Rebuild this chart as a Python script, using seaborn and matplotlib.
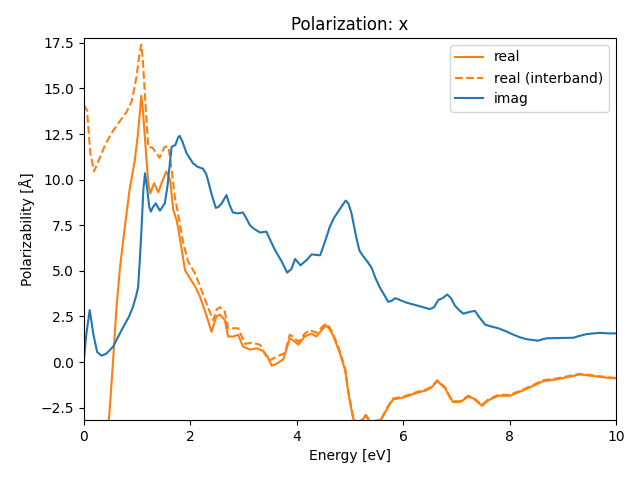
import matplotlib
matplotlib.use("Agg")
import matplotlib.pyplot as plt
import seaborn as sns
import pandas as pd

imag_x = [0.00, 0.05, 0.11, 0.18, 0.25, 0.33, 0.42, 0.55, 0.70, 0.85, 0.92, 0.98, 1.02, 1.05, 1.08, 1.12, 1.15, 1.19, 1.23, 1.26,
          1.30, 1.35, 1.43, 1.52, 1.57, 1.62, 1.65, 1.72, 1.77, 1.80, 1.85, 1.93, 2.05, 2.14, 2.24, 2.30, 2.33, 2.40, 2.48, 2.53,
          2.59, 2.68, 2.74, 2.80, 2.89, 2.99, 3.05, 3.12, 3.20, 3.31, 3.43, 3.50, 3.59, 3.72, 3.82, 3.90, 3.97, 4.07, 4.19, 4.28,
          4.44, 4.52, 4.62, 4.70, 4.78, 4.86, 4.92, 4.97, 5.03, 5.08, 5.13, 5.18, 5.25, 5.33, 5.41, 5.48, 5.56, 5.64, 5.72, 5.78,
          5.85, 6.07, 6.32, 6.50, 6.58, 6.66, 6.74, 6.83, 6.90, 6.97, 7.05, 7.13, 7.25, 7.35, 7.42, 7.54, 7.65, 7.79, 7.92, 8.07,
          8.20, 8.32, 8.45, 8.54, 8.62, 8.70, 9.00, 9.20, 9.30, 9.45, 9.70, 9.85, 10.0]
imag_y = [0.10, 1.6, 2.85, 1.5, 0.55, 0.35, 0.45, 0.84, 1.7, 2.5, 3.0, 3.6, 4.1, 5.5, 7.1, 9.5, 10.35, 9.5, 8.5, 8.25,
          8.5, 8.7, 8.3, 8.7, 9.6, 11.0, 11.8, 11.9, 12.3, 12.4, 12.1, 11.45, 10.9, 10.7, 10.6, 10.3, 10.0, 9.2, 8.45, 8.5,
          8.7, 9.15, 8.6, 8.2, 8.15, 8.2, 7.9, 7.5, 7.3, 7.1, 7.15, 6.7, 6.15, 5.5, 4.9, 5.1, 5.65, 5.3, 5.6, 5.9,
          5.85, 6.5, 7.4, 7.9, 8.25, 8.6, 8.85, 8.7, 8.15, 7.4, 6.7, 6.1, 5.8, 5.5, 5.15, 4.6, 4.1, 3.7, 3.3, 3.35,
          3.5, 3.25, 3.05, 2.9, 3.0, 3.4, 3.5, 3.7, 3.5, 3.1, 2.85, 2.65, 2.75, 2.8, 2.5, 2.05, 1.95, 1.85, 1.7, 1.5,
          1.35, 1.25, 1.2, 1.17, 1.25, 1.3, 1.32, 1.33, 1.42, 1.53, 1.6, 1.57, 1.57]

real_x = [0.40, 0.44, 0.49, 0.55, 0.61, 0.68, 0.77, 0.86, 0.96, 1.02, 1.08, 1.11, 1.15, 1.21, 1.25, 1.32, 1.40, 1.46, 1.55, 1.62,
          1.68, 1.74, 1.77, 1.84, 1.90, 1.99, 2.09, 2.18, 2.31, 2.40, 2.49, 2.56, 2.65, 2.71, 2.81, 2.90, 2.99, 3.12, 3.25, 3.37,
          3.45, 3.53, 3.62, 3.75, 3.87, 3.93, 4.03, 4.15, 4.28, 4.37, 4.47, 4.55, 4.62, 4.69, 4.81, 4.91, 4.97, 5.06, 5.12, 5.19,
          5.30, 5.37, 5.44, 5.52, 5.60, 5.72, 5.81, 6.00, 6.25, 6.44, 6.53, 6.64, 6.70, 6.79, 6.88, 6.94, 7.07, 7.22, 7.32, 7.42,
          7.48, 7.60, 7.79, 8.01, 8.26, 8.45, 8.63, 8.89, 9.14, 9.32, 9.57, 9.82, 10.0]
real_y = [-6.0, -4.2, -2.45, 0.1, 2.85, 5.2, 7.4, 9.45, 11.1, 12.6, 14.6, 13.8, 12.2, 9.8, 9.25, 9.8, 9.3, 9.8, 10.45, 10.0,
          8.35, 7.8, 7.4, 6.15, 5.05, 4.6, 4.15, 3.6, 2.5, 1.65, 2.5, 2.6, 2.3, 1.4, 1.4, 1.5, 0.85, 0.68, 0.75, 0.6,
          0.3, -0.2, -0.1, 0.15, 1.3, 1.2, 0.95, 1.4, 1.55, 1.4, 1.75, 2.0, 1.8, 1.4, 0.5, -0.45, -1.7, -3.1, -3.3, -3.3,
          -2.95, -3.25, -3.3, -3.25, -3.1, -2.45, -2.05, -1.95, -1.7, -1.55, -1.4, -1.05, -1.2, -1.45, -1.95, -2.2, -2.2, -1.9, -2.0, -2.25,
          -2.4, -2.1, -1.85, -1.85, -1.55, -1.3, -1.05, -0.95, -0.8, -0.68, -0.77, -0.86, -0.9]

inter_x = [0.00, 0.06, 0.12, 0.19, 0.30, 0.40, 0.52, 0.65, 0.80, 0.90, 0.99, 1.05, 1.08, 1.11, 1.15, 1.21, 1.29, 1.42, 1.52, 1.59,
           1.65, 1.71, 1.77, 1.87, 1.96, 2.09, 2.21, 2.34, 2.43, 2.50, 2.56, 2.65, 2.71, 2.80, 2.90, 3.03, 3.15, 3.31, 3.43, 3.50,
           3.65, 3.78, 3.87, 3.93, 4.03, 4.15, 4.25, 4.37, 4.47, 4.55, 4.62, 4.69, 4.81, 4.91, 4.97, 5.06, 5.12, 5.19, 5.30, 5.37,
           5.44, 5.52, 5.60, 5.72, 5.81, 6.00, 6.25, 6.44, 6.53, 6.64, 6.70, 6.79, 6.88, 6.94, 7.07, 7.22, 7.32, 7.42, 7.48, 7.60,
           7.79, 8.01, 8.26, 8.45, 8.63, 8.89, 9.14, 9.32, 9.57, 9.82, 10.0]
inter_y = [14.1, 13.8, 11.5, 10.45, 11.2, 11.9, 12.55, 13.1, 13.7, 14.3, 15.65, 17.0, 17.4, 16.5, 14.55, 11.8, 11.75, 11.2, 11.8, 11.8,
           10.55, 9.05, 8.15, 6.5, 5.5, 4.85, 3.95, 2.95, 2.3, 2.9, 3.0, 2.75, 1.85, 1.85, 1.85, 1.0, 1.05, 0.95, 0.3, 0.1,
           0.33, 0.5, 1.5, 1.4, 1.1, 1.55, 1.75, 1.6, 1.9, 2.1, 1.9, 1.5, 0.6, -0.35, -1.6, -3.0, -3.25, -3.25, -2.9, -3.2,
           -3.25, -3.2, -3.05, -2.4, -2.0, -1.9, -1.65, -1.5, -1.35, -1.0, -1.15, -1.4, -1.9, -2.15, -2.15, -1.85, -1.95, -2.2, -2.35, -2.05,
           -1.8, -1.8, -1.5, -1.25, -1.0, -0.9, -0.75, -0.65, -0.73, -0.83, -0.87]

fig, ax = plt.subplots(figsize=(6.4, 4.8), dpi=100)
sns.lineplot(data=pd.DataFrame({"x": real_x, "y": real_y}), x="x", y="y", ax=ax,
             color="#ff7f0e", linewidth=1.5, label="real", estimator=None)
sns.lineplot(data=pd.DataFrame({"x": inter_x, "y": inter_y}), x="x", y="y", ax=ax,
             color="#ff7f0e", linewidth=1.5, linestyle="--", label="real (interband)", estimator=None)
sns.lineplot(data=pd.DataFrame({"x": imag_x, "y": imag_y}), x="x", y="y", ax=ax,
             color="#1f77b4", linewidth=1.5, label="imag", estimator=None)

ax.set_xlim(0, 10)
ax.set_ylim(-3.18, 17.77)
ax.set_title("Polarization: x")
ax.set_xlabel("Energy [eV]")
ax.set_ylabel("Polarizability [Å]")
ax.legend(loc="upper right")
fig.subplots_adjust(left=0.131, right=0.9625, top=0.921, bottom=0.125)
fig.savefig("out.png", dpi=100)
